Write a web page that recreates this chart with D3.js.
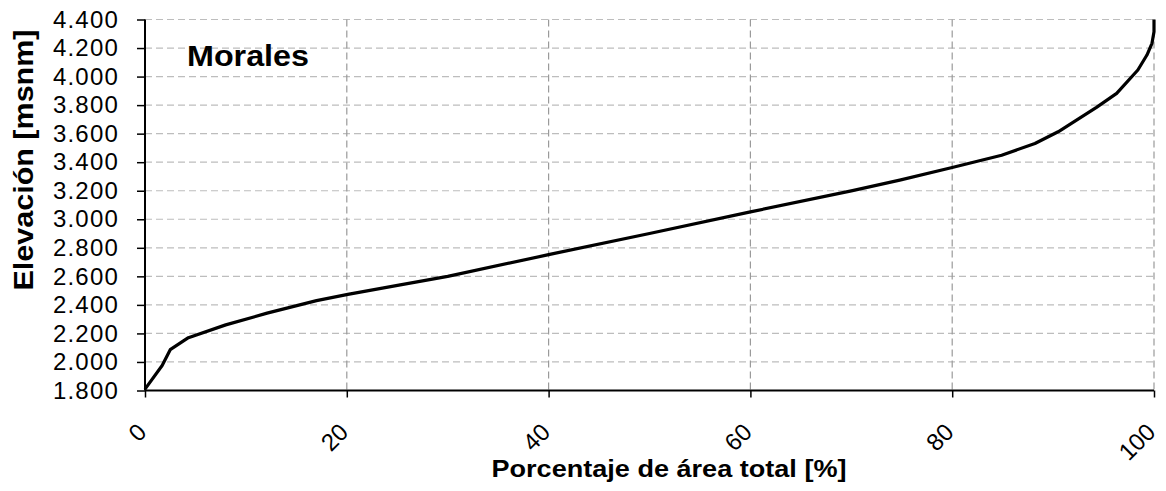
<!DOCTYPE html>
<head>
<meta charset="utf-8">
<style>
  body { margin: 0; background: #fff; }
  text { font-family: "Liberation Sans", Arial, sans-serif; fill: #000; }
</style>
</head>
<body>
<div id="chart"></div>
<script src="https://d3js.org/d3.v7.min.js"></script>
<script>
// curva hipsometrica - Morales
var areaPct = [0, 1.7, 2.5, 4.3, 8, 12.1, 17, 20.1, 25.3, 30, 40, 50, 60, 70, 74.8, 80, 84.9, 88.2, 90.5, 91.7, 94.3, 96.3, 98.4, 99.3, 99.8, 100, 100];
var elevacion = [1810, 1975, 2086, 2170, 2260, 2342, 2430, 2474, 2540, 2600, 2752, 2900, 3052, 3199, 3274, 3363, 3449, 3531, 3613, 3667, 3784, 3882, 4046, 4151, 4233, 4314, 4400];
var xTicks = [0, 20, 40, 60, 80, 100];
var yTicks = [1800, 2000, 2200, 2400, 2600, 2800, 3000, 3200, 3400, 3600, 3800, 4000, 4200, 4400];

var margin = {top: 19.5, right: 12, bottom: 100.5, left: 145},
    width = 1166 - margin.left - margin.right,
    height = 491 - margin.top - margin.bottom;

var x = d3.scaleLinear().domain([0, 100]).range([0, width]);
var y = d3.scaleLinear().domain([1800, 4400]).range([height, 0]);

var svg = d3.select("#chart").append("svg")
    .attr("width", 1166)
    .attr("height", 491)
  .append("g")
    .attr("transform", "translate(" + margin.left + "," + margin.top + ")");

// grid
svg.append("g").selectAll("line")
    .data(yTicks.slice(1))
  .enter().append("line")
    .attr("x1", 0).attr("x2", width)
    .attr("y1", function(d) { return y(d); })
    .attr("y2", function(d) { return y(d); })
    .attr("stroke", "#bdbdbd")
    .attr("stroke-width", 1.2)
    .attr("stroke-dasharray", "7,4");
svg.append("g").selectAll("line")
    .data(xTicks.slice(1))
  .enter().append("line")
    .attr("x1", function(d) { return x(d); })
    .attr("x2", function(d) { return x(d); })
    .attr("y1", 0).attr("y2", height)
    .attr("stroke", "#9a9a9a")
    .attr("stroke-width", 1.2)
    .attr("stroke-dasharray", "7,4");

var fmt = function(d) { return d3.format(",")(d).replace(",", "."); };

// y axis
var yAxis = svg.append("g")
    .call(d3.axisLeft(y).tickValues(yTicks).tickSize(8).tickPadding(18).tickFormat(fmt));
yAxis.select(".domain").attr("stroke-width", 2).attr("d", "M0," + height + "V0");
yAxis.selectAll(".tick line").attr("stroke-width", 1.5);
yAxis.selectAll("text")
    .attr("font-size", 24)
    .attr("letter-spacing", 1.2)
    .attr("font-family", "Liberation Sans, Arial, sans-serif");

// x axis
var xAxis = svg.append("g")
    .attr("transform", "translate(0," + height + ")")
    .call(d3.axisBottom(x).tickValues(xTicks).tickSize(7).tickFormat(""));
xAxis.select(".domain").attr("stroke-width", 2).attr("d", "M0,0H" + width);
xAxis.selectAll(".tick line").attr("stroke-width", 1.5);

svg.append("g").selectAll("text")
    .data(xTicks)
  .enter().append("text")
    .attr("text-anchor", "end")
    .attr("font-size", 24)
    .attr("transform", function(d) { return "translate(" + (x(d) + 3) + "," + (height + 43) + ")rotate(-45)"; })
    .text(function(d) { return d; });

// curve
var line = d3.line()
    .x(function(d, i) { return x(areaPct[i]); })
    .y(function(d) { return y(d); });
svg.append("path")
    .datum(elevacion)
    .attr("fill", "none")
    .attr("stroke", "#000")
    .attr("stroke-width", 3.2)
    .attr("stroke-linejoin", "round")
    .attr("d", line);

// labels
svg.append("text")
    .attr("x", 42).attr("y", 46)
    .attr("font-size", 30)
    .attr("font-weight", "bold")
    .attr("textLength", 122)
    .attr("lengthAdjust", "spacingAndGlyphs")
    .text("Morales");

svg.append("text")
    .attr("text-anchor", "middle")
    .attr("x", 669 - margin.left).attr("y", 477 - margin.top)
    .attr("font-size", 24)
    .attr("font-weight", "bold")
    .attr("textLength", 355)
    .attr("lengthAdjust", "spacingAndGlyphs")
    .text("Porcentaje de área total [%]");

svg.append("text")
    .attr("text-anchor", "middle")
    .attr("transform", "translate(" + (33 - margin.left) + "," + (160 - margin.top) + ")rotate(-90)")
    .attr("font-size", 28)
    .attr("font-weight", "bold")
    .attr("textLength", 261)
    .attr("lengthAdjust", "spacingAndGlyphs")
    .text("Elevación [msnm]");
</script>
</body>
</html>
